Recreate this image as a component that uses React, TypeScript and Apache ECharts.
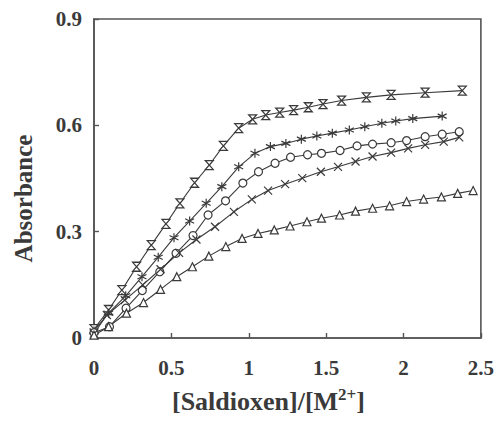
import React, { useEffect, useRef } from "react";
import * as echarts from "echarts";

const xTickLabels = ["0", "0.5", "1", "1.5", "2", "2.5"];
const yTickLabels = ["0", "0.3", "0.6", "0.9"];

const hourglassX = [0, 0.094, 0.18, 0.275, 0.37, 0.465, 0.555, 0.65, 0.745, 0.836, 0.935, 1.025, 1.11, 1.2, 1.29, 1.385, 1.48, 1.6, 1.76, 1.92, 2.14, 2.38];
const hourglassY = [0.025, 0.079, 0.135, 0.201, 0.262, 0.322, 0.38, 0.438, 0.488, 0.542, 0.592, 0.617, 0.629, 0.636, 0.643, 0.651, 0.66, 0.67, 0.679, 0.686, 0.692, 0.698];

const starX = [0, 0.094, 0.205, 0.31, 0.415, 0.517, 0.618, 0.725, 0.826, 0.935, 1.04, 1.14, 1.24, 1.34, 1.44, 1.54, 1.65, 1.75, 1.86, 1.95, 2.06, 2.25];
const starY = [0.02, 0.07, 0.119, 0.173, 0.228, 0.283, 0.33, 0.38, 0.427, 0.483, 0.521, 0.54, 0.549, 0.561, 0.57, 0.578, 0.587, 0.596, 0.606, 0.612, 0.619, 0.626];

const circleX = [0, 0.1, 0.207, 0.312, 0.425, 0.53, 0.64, 0.737, 0.85, 0.962, 1.063, 1.17, 1.27, 1.38, 1.47, 1.59, 1.7, 1.8, 1.92, 2.02, 2.14, 2.25, 2.36];
const circleY = [0.015, 0.032, 0.084, 0.134, 0.187, 0.239, 0.289, 0.347, 0.387, 0.437, 0.469, 0.493, 0.51, 0.517, 0.521, 0.529, 0.542, 0.547, 0.551, 0.557, 0.568, 0.575, 0.582];

const crossX = [0, 0.083, 0.199, 0.315, 0.43, 0.55, 0.662, 0.782, 0.904, 1.02, 1.125, 1.235, 1.346, 1.466, 1.577, 1.69, 1.8, 1.92, 2.03, 2.14, 2.26, 2.36];
const crossY = [0.012, 0.065, 0.107, 0.15, 0.194, 0.24, 0.278, 0.314, 0.356, 0.391, 0.416, 0.434, 0.451, 0.469, 0.483, 0.498, 0.512, 0.523, 0.535, 0.545, 0.554, 0.566];

const triangleX = [0, 0.094, 0.21, 0.32, 0.43, 0.535, 0.636, 0.742, 0.852, 0.957, 1.06, 1.165, 1.267, 1.376, 1.47, 1.587, 1.69, 1.8, 1.91, 2.02, 2.13, 2.245, 2.35, 2.45];
const triangleY = [0.008, 0.032, 0.07, 0.1, 0.137, 0.173, 0.201, 0.231, 0.258, 0.281, 0.295, 0.305, 0.316, 0.328, 0.338, 0.347, 0.358, 0.366, 0.373, 0.385, 0.392, 0.398, 0.408, 0.416];

const INK = "#3a3a3a";
const FONT = "'Liberation Serif', 'DejaVu Serif', serif";

function zip(xs: number[], ys: number[]) {
  return xs.map((x, i) => [x, ys[i]]);
}

function makeSeries(name: string, xs: number[], ys: number[], symbol: string, size: number | number[]) {
  return {
    name,
    type: "line",
    data: zip(xs, ys),
    symbol,
    symbolSize: size,
    showSymbol: true,
    lineStyle: { color: INK, width: 1.1 },
    itemStyle: { color: "#ffffff", borderColor: INK, borderWidth: 1.2 },
    z: 3,
  };
}

export default function App() {
  const ref = useRef<HTMLDivElement>(null);
  useEffect(() => {
    if (!ref.current) return;
    const chart = echarts.init(ref.current, undefined, { renderer: "svg" });
    chart.setOption({
      animation: false,
      backgroundColor: "#ffffff",
      grid: {
        left: 94,
        right: 9,
        top: 19,
        bottom: 88,
        show: true,
        borderColor: "#555",
        borderWidth: 1.6,
        backgroundColor: "transparent",
      },
      xAxis: {
        type: "value",
        min: 0,
        max: 2.5,
        interval: 0.5,
        name: "[Saldioxen]/[M{sup|2+}]",
        nameLocation: "middle",
        nameGap: 48,
        nameTextStyle: {
          fontFamily: FONT,
          fontWeight: "bold",
          fontSize: 26,
          color: INK,
          padding: [0, 38, 0, 0],
          lineHeight: 30,
          rich: {
            sup: {
              fontFamily: FONT,
              fontWeight: "bold",
              fontSize: 17,
              color: INK,
              verticalAlign: "top",
              lineHeight: 30,
            },
          },
        },
        axisLine: { show: true, lineStyle: { color: "#555", width: 1.6 } },
        axisTick: { show: true, inside: true, length: 5, lineStyle: { color: "#555", width: 1.4 } },
        splitLine: { show: false },
        axisLabel: {
          margin: 19,
          fontFamily: FONT,
          fontWeight: "bold",
          fontSize: 21,
          color: INK,
          formatter: (v: number) => {
            const idx = Math.round(v / 0.5);
            return xTickLabels[idx] ?? String(v);
          },
        },
      },
      yAxis: {
        type: "value",
        min: 0,
        max: 0.9,
        interval: 0.3,
        name: "Absorbance",
        nameLocation: "middle",
        nameGap: 58,
        nameRotate: 90,
        nameTextStyle: {
          fontFamily: FONT,
          fontWeight: "bold",
          fontSize: 25,
          color: INK,
          padding: [0, 40, 0, 0],
        },
        axisLine: { show: true, lineStyle: { color: "#555", width: 1.6 } },
        axisTick: { show: true, inside: true, length: 5, lineStyle: { color: "#555", width: 1.4 } },
        splitLine: { show: false },
        axisLabel: {
          margin: 12,
          fontFamily: FONT,
          fontWeight: "bold",
          fontSize: 21,
          color: INK,
          formatter: (v: number) => {
            const idx = Math.round(v / 0.3);
            return yTickLabels[idx] ?? String(v);
          },
        },
      },
      series: [
        makeSeries("A", hourglassX, hourglassY, "path://M0,0L10,0L0,12L10,12Z", [8, 9]),
        makeSeries("B", starX, starY, "path://M5,0L5,10M0,2.5L10,7.5M0,7.5L10,2.5", 9),
        makeSeries("C", circleX, circleY, "circle", 8),
        makeSeries("D", crossX, crossY, "path://M0,0L10,10M10,0L0,10", 8),
        makeSeries("E", triangleX, triangleY, "triangle", 8),
      ],
    });
    return () => chart.dispose();
  }, []);
  return (
    <div
      ref={ref}
      style={{ position: "fixed", left: 0, top: 0, width: 497, height: 426, background: "#fff" }}
    />
  );
}
